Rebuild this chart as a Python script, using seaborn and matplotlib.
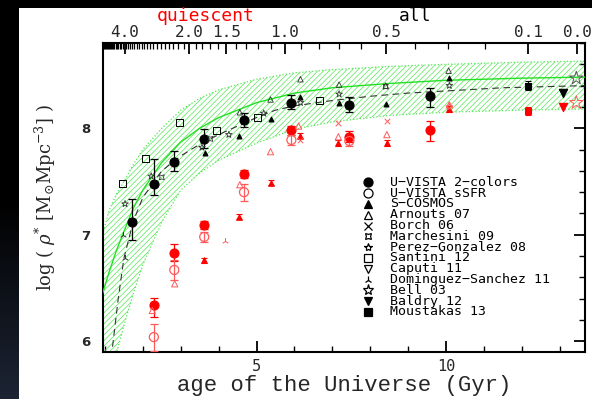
import numpy as np
import pandas as pd
import matplotlib
matplotlib.use("Agg")
import matplotlib.pyplot as plt
import seaborn as sns
from matplotlib.lines import Line2D

# ---------------- data ----------------
# U-VISTA 2-colors, all galaxies
uv_age = [1.72, 2.29, 2.83, 3.62, 4.67, 5.92, 7.45, 9.59]
uv_all = [7.12, 7.48, 7.68, 7.90, 8.08, 8.24, 8.22, 8.30]
uv_all_lo = [0.17, 0.11, 0.08, 0.09, 0.07, 0.06, 0.07, 0.10]
uv_all_hi = [0.22, 0.23, 0.11, 0.09, 0.06, 0.07, 0.07, 0.08]
# U-VISTA 2-colors, quiescent
uvq_age = [2.29, 2.83, 3.62, 4.67, 5.92, 7.45, 9.59]
uvq = [6.34, 6.83, 7.09, 7.57, 7.98, 7.92, 7.98]
uvq_lo = [0.11, 0.08, 0.04, 0.04, 0.04, 0.05, 0.10]
uvq_hi = [0.07, 0.08, 0.04, 0.04, 0.04, 0.05, 0.09]
# U-VISTA sSFR, quiescent
ssq_age = [2.29, 2.83, 3.62, 4.67, 5.92, 7.45]
ssq = [6.04, 6.67, 6.98, 7.40, 7.89, 7.88]
ssq_lo = [0.13, 0.09, 0.05, 0.08, 0.05, 0.05]
ssq_hi = [0.12, 0.09, 0.05, 0.08, 0.05, 0.05]
# S-COSMOS
sc_age = [3.65, 4.55, 5.37, 6.16, 7.18, 8.41, 10.07]
sc_all = [7.77, 7.93, 8.09, 8.29, 8.24, 8.23, 8.47]
scq_age = [3.62, 4.53, 5.37, 6.16, 7.16, 8.44, 10.09]
scq = [6.76, 7.17, 7.49, 7.93, 7.86, 7.86, 8.18]
# Arnouts 07
arn_age = [4.56, 5.37, 6.16, 7.18, 8.41, 10.07]
arn_all = [8.15, 8.27, 8.46, 8.41, 8.40, 8.54]
arnq_age = [2.25, 2.84, 4.56, 5.37, 6.11, 7.16, 8.44, 10.09]
arnq = [6.29, 6.54, 7.47, 7.78, 8.02, 7.92, 7.94, 8.22]
# Borch 06
borq_age = [6.16, 7.16, 8.44]
borq = [7.89, 8.05, 8.07]
# Marchesini 09
mar_age = [2.50, 3.78, 8.41]
mar_all = [7.54, 7.90, 8.39]
# Perez-Gonzalez 08
per_age = [1.53, 2.22, 3.56, 4.27, 5.19, 6.16, 7.18, 10.09]
per_all = [7.29, 7.55, 7.82, 7.94, 8.14, 8.24, 8.32, 8.40]
perq_age = [10.09]
perq = [8.20]
# Santini 12
san_age = [1.47, 2.06, 2.97, 3.94, 5.02, 6.65]
san_all = [7.48, 7.72, 8.05, 7.98, 8.10, 8.26]
# Dominguez-Sanchez 11
ds_age = [1.47, 1.52]
ds_all = [7.00, 6.78]
dsq_age = [4.18]
dsq = [6.94]
# Bell 03, Baldry 12, Moustakas 13 (local)
bell_age = [13.44]
bell_all = [8.47]
bellq = [8.24]
bal_age = [13.09]
bal_all = [8.33]
balq = [8.20]
mou_age = [12.16]
mou_all = [8.40]
mouq = [8.16]
mou_err = [0.04]

# model curves
band_age = [0.94, 1.1, 1.3, 1.5, 1.75, 2.0, 2.5, 3.0, 3.5, 4.0, 5.0, 6.0, 7.0, 8.5, 10.0, 12.0, 13.67]
band_mid = [6.45, 6.64, 6.85, 7.03, 7.25, 7.42, 7.68, 7.87, 8.00, 8.10, 8.24, 8.33, 8.38, 8.42, 8.45, 8.47, 8.48]
band_hi = [7.00, 7.22, 7.38, 7.50, 7.66, 7.80, 8.00, 8.17, 8.28, 8.36, 8.46, 8.52, 8.55, 8.58, 8.60, 8.62, 8.63]
band_lo = [5.30, 5.58, 5.88, 6.15, 6.45, 6.72, 7.12, 7.42, 7.58, 7.70, 7.86, 7.99, 8.06, 8.12, 8.15, 8.17, 8.18]
fit_age = [1.2, 1.35, 1.5, 1.75, 2.0, 2.5, 3.0, 3.5, 4.0, 4.5, 5.0, 5.5, 6.0, 7.0, 8.0, 9.0, 10.0, 11.5, 13.67]
fit_all = [5.95, 6.40, 6.78, 7.13, 7.35, 7.60, 7.74, 7.85, 7.94, 8.02, 8.10, 8.17, 8.21, 8.26, 8.30, 8.33, 8.35, 8.38, 8.40]

z_major = [4.0, 2.0, 1.5, 1.0, 0.5, 0.1, 0.0]
z_major_labels = ["4.0", "2.0", "1.5", "1.0", "0.5", "0.1", "0.0"]

legend_items = [
    ("U\u2212VISTA 2\u2212colors", "o", True),
    ("U\u2212VISTA sSFR", "o", False),
    ("S\u2212COSMOS", "^", True),
    ("Arnouts 07", "^", False),
    ("Borch 06", "x", False),
    ("Marchesini 09", (4, 1, 45), False),
    ("Perez\u2212Gonzalez 08", "*", False),
    ("Santini 12", "s", False),
    ("Caputi 11", "v", False),
    ("Dominguez\u2212Sanchez 11", "2", False),
    ("Bell 03", "*", False),
    ("Baldry 12", "v", True),
    ("Moustakas 13", "s", True),
]

# ---------------- figure ----------------
sns.set_theme(style="white")
plt.rcParams["font.family"] = ["DejaVu Sans"]
plt.rcParams["mathtext.fontset"] = "dejavuserif"
plt.rcParams["hatch.linewidth"] = 0.5

W, H = 592, 399
fig = plt.figure(figsize=(W / 100, H / 100), dpi=100)
fig.patch.set_facecolor("black")

# dark left strip with slight gradient
gax = fig.add_axes([0, 0, 19 / W, 1], zorder=-2)
grad = np.linspace(0, 1, 100).reshape(-1, 1)
gax.imshow(grad, aspect="auto", cmap=matplotlib.colors.LinearSegmentedColormap.from_list(
    "g", ["#000000", "#000000", "#1c2433"]), origin="upper")
gax.axis("off")
# white panel
bax = fig.add_axes([19 / W, 0, 1 - 19 / W, 1 - 8 / H], zorder=-1)
bax.set_facecolor("white")
bax.set_xticks([])
bax.set_yticks([])
for s in bax.spines.values():
    s.set_visible(False)

L, R, T, B = 102.5, 585, 43, 352
ax = fig.add_axes([L / W, 1 - B / H, (R - L) / W, (B - T) / H], zorder=1)
ax.set_facecolor("none")

XMIN, XMAX = 0.935, 13.67
YMIN, YMAX = 5.90, 8.77

RED = "#ff0000"
PINK = "#ff5a5a"
GREEN = "#22e022"
HATCH = "#55e855"


def scat(xs, ys, marker, color, size, filled=True, lw=0.8, z=4):
    df = pd.DataFrame({"x": xs, "y": ys})
    if marker in ("x", "2"):
        sns.scatterplot(data=df, x="x", y="y", marker=marker, color=color, s=size ** 2,
                        linewidth=lw, ax=ax, zorder=z, legend=False)
    elif filled:
        sns.scatterplot(data=df, x="x", y="y", marker=marker, color=color, s=size ** 2,
                        edgecolor=color, linewidth=lw, ax=ax, zorder=z, legend=False)
    else:
        sns.scatterplot(data=df, x="x", y="y", marker=marker, facecolor="none", s=size ** 2,
                        edgecolor=color, linewidth=lw, ax=ax, zorder=z, legend=False)


# band
ax.fill_between(band_age, band_lo, band_hi, facecolor="none", edgecolor=HATCH,
                hatch="//////", linewidth=0, zorder=2)
sns.lineplot(x=band_age, y=band_hi, color=HATCH, lw=0.9, linestyle=":", ax=ax,
             estimator=None, sort=False, zorder=2)
sns.lineplot(x=band_age, y=band_lo, color=HATCH, lw=0.9, linestyle=":", ax=ax,
             estimator=None, sort=False, zorder=2)
sns.lineplot(x=band_age, y=band_mid, color=GREEN, lw=1.0, ax=ax,
             estimator=None, sort=False, zorder=3)
sns.lineplot(x=fit_age, y=fit_all, color="#333333", lw=0.8, linestyle=(0, (6, 4)), ax=ax,
             estimator=None, sort=False, zorder=3)

# error bars
ax.errorbar(uv_age, uv_all, yerr=[uv_all_lo, uv_all_hi], fmt="none", ecolor="black",
            elinewidth=0.9, capsize=3, capthick=0.9, zorder=4)
ax.errorbar(uvq_age, uvq, yerr=[uvq_lo, uvq_hi], fmt="none", ecolor=RED,
            elinewidth=0.9, capsize=3, capthick=0.9, zorder=4)
ax.errorbar(ssq_age, ssq, yerr=[ssq_lo, ssq_hi], fmt="none", ecolor=PINK,
            elinewidth=0.9, capsize=3, capthick=0.9, zorder=4)
ax.errorbar(scq_age, scq, yerr=0.025, fmt="none", ecolor=RED,
            elinewidth=0.8, capsize=2.5, capthick=0.8, zorder=4)
ax.errorbar(mou_age, mou_all, yerr=mou_err, fmt="none", ecolor="black",
            elinewidth=0.8, capsize=2.5, capthick=0.8, zorder=4)
ax.errorbar(mou_age, mouq, yerr=mou_err, fmt="none", ecolor=RED,
            elinewidth=0.8, capsize=2.5, capthick=0.8, zorder=4)

# points: all (black)
scat(uv_age, uv_all, "o", "black", 6.5)
scat(sc_age, sc_all, "^", "black", 3.5)
scat(arn_age, arn_all, "^", "#333333", 4.0, filled=False, lw=0.6)
scat(mar_age, mar_all, (4, 1, 45), "#333333", 5.0, filled=False, lw=0.6)
scat(per_age, per_all, "*", "#333333", 5.0, filled=False, lw=0.6)
scat(san_age, san_all, "s", "black", 5.0, filled=False, lw=0.7)
scat(ds_age, ds_all, "2", "#333333", 5.0, lw=0.7)
scat(bell_age, bell_all, "*", "#555555", 10.0, filled=False, lw=0.7)
scat(bal_age, bal_all, "v", "black", 6.0)
scat(mou_age, mou_all, "s", "black", 5.0)

# points: quiescent (red)
scat(uvq_age, uvq, "o", RED, 6.5)
scat(ssq_age, ssq, "o", PINK, 6.5, filled=False, lw=0.9)
scat(scq_age, scq, "^", RED, 4.0)
scat(arnq_age, arnq, "^", PINK, 4.5, filled=False, lw=0.7)
scat(borq_age, borq, "x", PINK, 4.0, lw=0.7)
scat(perq_age, perq, "*", PINK, 5.0, filled=False, lw=0.7)
scat(dsq_age, dsq, "2", PINK, 5.0, lw=0.7)
scat(bell_age, bellq, "*", PINK, 10.0, filled=False, lw=0.7)
scat(bal_age, balq, "v", RED, 6.0)
scat(mou_age, mouq, "s", RED, 5.0)

ax.set_xlim(XMIN, XMAX)
ax.set_ylim(YMIN, YMAX)

# axes styling
for s in ax.spines.values():
    s.set_linewidth(1.5)
    s.set_color("black")
ax.set_xticks([5, 10])
ax.set_xticklabels(["5", "10"], family="DejaVu Sans Mono", fontsize=11)
ax.set_xticks(np.arange(1, 14), minor=True)
ax.set_yticks([6, 7, 8])
ax.set_yticklabels(["6", "7", "8"], fontsize=9.5, fontweight="bold")
ax.set_yticks(np.arange(6.0, 8.8, 0.2), minor=True)
ax.tick_params(which="both", direction="in", top=False, right=True, color="black")
ax.tick_params(which="major", length=8, width=1.3)
ax.tick_params(which="minor", length=4, width=1.0)
ax.tick_params(axis="x", which="major", pad=5)
ax.tick_params(axis="y", which="major", pad=9)


def age_of_z(z):
    return 11.13 * np.arcsinh(1.5275 * (1.0 + np.asarray(z)) ** -1.5)


ax2 = ax.twiny()
ax2.set_xlim(XMIN, XMAX)
ax2.set_xticks(age_of_z(z_major))
ax2.set_xticklabels(z_major_labels, family="DejaVu Sans Mono", fontsize=11.5)
zmin = np.round(np.arange(0.1, 6.0, 0.1), 2)
zmin = [z for z in zmin if not any(abs(z - m) < 1e-6 for m in z_major)]
ax2.set_xticks(age_of_z(zmin), minor=True)
ax2.tick_params(which="both", direction="in", color="black")
ax2.tick_params(which="major", length=8, width=1.3, pad=2)
ax2.tick_params(which="minor", length=4, width=0.9)
for s in ax2.spines.values():
    s.set_visible(False)
ax2.grid(False)
ax.grid(False)

# labels
ax.set_xlabel("age of the Universe (Gyr)", family="Liberation Mono",
              fontsize=16, va="center")
ax.xaxis.set_label_coords(0.5, (B - 386) / (B - T))
ax.set_ylabel(r"log ( $\rho^{*}$ [M$_{\odot}$Mpc$^{-3}$] )", family="DejaVu Serif",
              fontsize=13, va="center")
ax.yaxis.set_label_coords((45 - L) / (R - L), 0.5)

fig.text(206 / W, 1 - 16 / H, "quiescent", color=RED, family="DejaVu Sans Mono",
         fontsize=13, ha="center", va="center")
fig.text(415 / W, 1 - 16 / H, "all", color="black", family="DejaVu Sans Mono",
         fontsize=13, ha="center", va="center")

# legend (manual, axes coordinates)
AW, AH = R - L, B - T
mx = (368 - L) / AW
tx = (390 - L) / AW
for i, (lab, mk, filled) in enumerate(legend_items):
    py = 182.3 + i * 10.8
    yy = (B - py) / AH
    ms = 6.5 if mk in ("o",) else 6
    if lab.startswith("Bell"):
        ms = 8
    if lab.startswith("Perez"):
        ms = 6
    if mk in ("x", "2"):
        ax.add_line(Line2D([mx], [yy], marker=mk, color="black", markersize=ms, mew=0.9,
                           transform=ax.transAxes, linestyle="none", zorder=6))
    else:
        ax.add_line(Line2D([mx], [yy], marker=mk, markersize=ms, mew=0.9,
                           markerfacecolor="black" if filled else "none",
                           markeredgecolor="black", transform=ax.transAxes,
                           linestyle="none", zorder=6))
    ax.text(tx, yy, lab, transform=ax.transAxes, family="DejaVu Sans Mono",
            fontsize=9.5, va="center", ha="left", color="black", zorder=6)

fig.savefig("out.png", dpi=100, facecolor=fig.get_facecolor())
